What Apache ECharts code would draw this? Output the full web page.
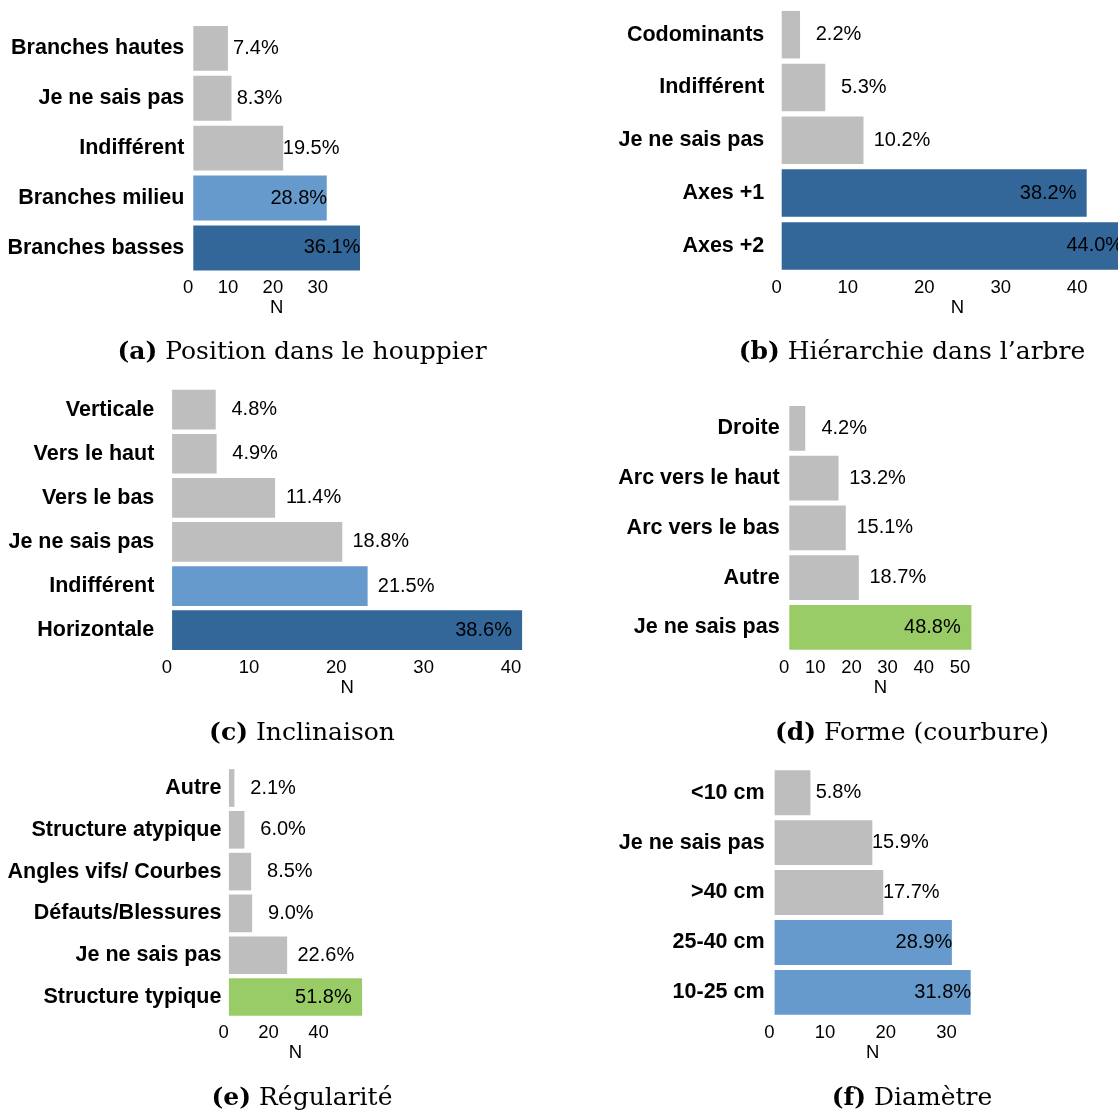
<!DOCTYPE html>
<html><head><meta charset="utf-8">
<script src="https://cdn.jsdelivr.net/npm/echarts@6/dist/echarts.min.js"></script>
<style>html,body{margin:0;padding:0;background:#fff}#c{width:1118px;height:1111px}</style>
</head><body><div id="c"></div><script>
// ---- data ----
const catA = ['Branches hautes','Je ne sais pas','Indifférent','Branches milieu','Branches basses'];
const nA   = [7.7, 8.5, 20.0, 29.7, 37.1];
const pctA = [7.4, 8.3, 19.5, 28.8, 36.1];
const grpA = ['gray','gray','gray','light','dark'];

const catB = ['Codominants','Indifférent','Je ne sais pas','Axes +1','Axes +2'];
const nB   = [2.4, 5.7, 10.7, 39.9, 46.0];
const pctB = [2.2, 5.3, 10.2, 38.2, 44.0];
const grpB = ['gray','gray','gray','dark','dark'];

const catC = ['Verticale','Vers le haut','Vers le bas','Je ne sais pas','Indifférent','Horizontale'];
const nC   = [5.0, 5.1, 11.8, 19.5, 22.4, 40.1];
const pctC = [4.8, 4.9, 11.4, 18.8, 21.5, 38.6];
const grpC = ['gray','gray','gray','gray','light','dark'];

const catD = ['Droite','Arc vers le haut','Arc vers le bas','Autre','Je ne sais pas'];
const nD   = [4.4, 13.6, 15.6, 19.2, 50.3];
const pctD = [4.2, 13.2, 15.1, 18.7, 48.8];
const grpD = ['gray','gray','gray','gray','green'];

const catE = ['Autre','Structure atypique','Angles vifs/ Courbes','Défauts/Blessures','Je ne sais pas','Structure typique'];
const nE   = [2.2, 6.2, 8.9, 9.3, 23.3, 53.3];
const pctE = [2.1, 6.0, 8.5, 9.0, 22.6, 51.8];
const grpE = ['gray','gray','gray','gray','gray','green'];

const catF = ['<10 cm','Je ne sais pas','>40 cm','25-40 cm','10-25 cm'];
const nF   = [5.9, 16.1, 17.9, 29.2, 32.3];
const pctF = [5.8, 15.9, 17.7, 28.9, 31.8];
const grpF = ['gray','gray','gray','light','light'];

const tickStep = [10, 10, 10, 10, 20, 10];
const captionTags = ['a','b','c','d','e','f'];
const captionTexts = ['Position dans le houppier','Hiérarchie dans l’arbre','Inclinaison','Forme (courbure)','Régularité','Diamètre'];
const axisName = 'N';

// ---- styles / layout ----
const palette = {gray:'#BEBEBE', light:'#6699CC', dark:'#336699', green:'#99CC66'};
const layout = [
  {left:193.3, width:166.7, top:23.4,  height:249.5, margin:9,    d:28},
  {left:781.7, width:351.6, top:8.3,   height:264,   margin:17.4, d:38.5},
  {left:172.1, width:350,   top:387.6, height:264.6, margin:17.8, d:38.5},
  {left:789.3, width:182.1, top:403.5, height:248.75,margin:9.7,  d:39},
  {left:228.9, width:133.2, top:767.1, height:250.8, margin:7.5,  d:38.7},
  {left:774.6, width:196.1, top:767.8, height:249.5, margin:10,   d:28}
];
const captionPos = [[302,352],[912,352],[302,733],[912,733],[302,1098],[912,1098]];
const panels = [
  [catA,nA,pctA,grpA],[catB,nB,pctB,grpB],[catC,nC,pctC,grpC],
  [catD,nD,pctD,grpD],[catE,nE,pctE,grpE],[catF,nF,pctF,grpF]
];
const SANS = 'Liberation Sans, Arial, Helvetica, sans-serif';
const SERIF = 'DejaVu Serif, serif';

const grid = [], xAxis = [], yAxis = [], series = [];
panels.forEach((p, i) => {
  const [cats, vals, pcts, grps] = p;
  const L = layout[i];
  grid.push({left:L.left, top:L.top, width:L.width, height:L.height, containLabel:false, outerBoundsMode:'none'});
  const step = tickStep[i];
  xAxis.push({
    type:'value', gridIndex:i, min:0, max:'dataMax', interval:step,
    axisLine:{show:false}, axisTick:{show:false}, splitLine:{show:false},
    axisLabel:{show:true, align:'right', margin:6, color:'#000', fontSize:18.5, fontFamily:SANS,
      formatter: v => (Math.abs(v % step) < 1e-9 ? String(v) : '')},
    name:axisName, nameLocation:'middle', nameGap:24,
    nameTextStyle:{color:'#000', fontSize:18.5, fontFamily:SANS}
  });
  yAxis.push({
    type:'category', gridIndex:i, data:cats, inverse:true,
    axisLine:{show:false}, axisTick:{show:false}, splitLine:{show:false},
    axisLabel:{margin:L.margin, color:'#000', fontSize:21.5, fontWeight:'bold', fontFamily:SANS}
  });
  series.push({
    type:'bar', xAxisIndex:i, yAxisIndex:i, barCategoryGap:'10%',
    data: vals.map((v, k) => {
      const inside = pcts[k] > 25;
      return {
        value:v,
        itemStyle:{color:palette[grps[k]]},
        label:{show:true, position: inside ? 'insideRight' : 'right', distance:L.d, align:'center',
          formatter: pcts[k].toFixed(1) + '%', color:'#000', fontSize:20, fontFamily:SANS}
      };
    })
  });
});

const graphic = captionTags.map((t, i) => ({
  type:'text', x:captionPos[i][0], y:captionPos[i][1],
  style:{
    text:'{b|(' + t + ')}{r| ' + captionTexts[i] + '}',
    textAlign:'center', textVerticalAlign:'middle',
    rich:{
      b:{fontFamily:SERIF, fontWeight:'bold', fontSize:25, fill:'#000'},
      r:{fontFamily:SERIF, fontSize:25, fill:'#000'}
    }
  }
}));

const chart = echarts.init(document.getElementById('c'), null, {renderer:'canvas'});
chart.setOption({animation:false, backgroundColor:'#fff', grid, xAxis, yAxis, series, graphic});
</script></body></html>
